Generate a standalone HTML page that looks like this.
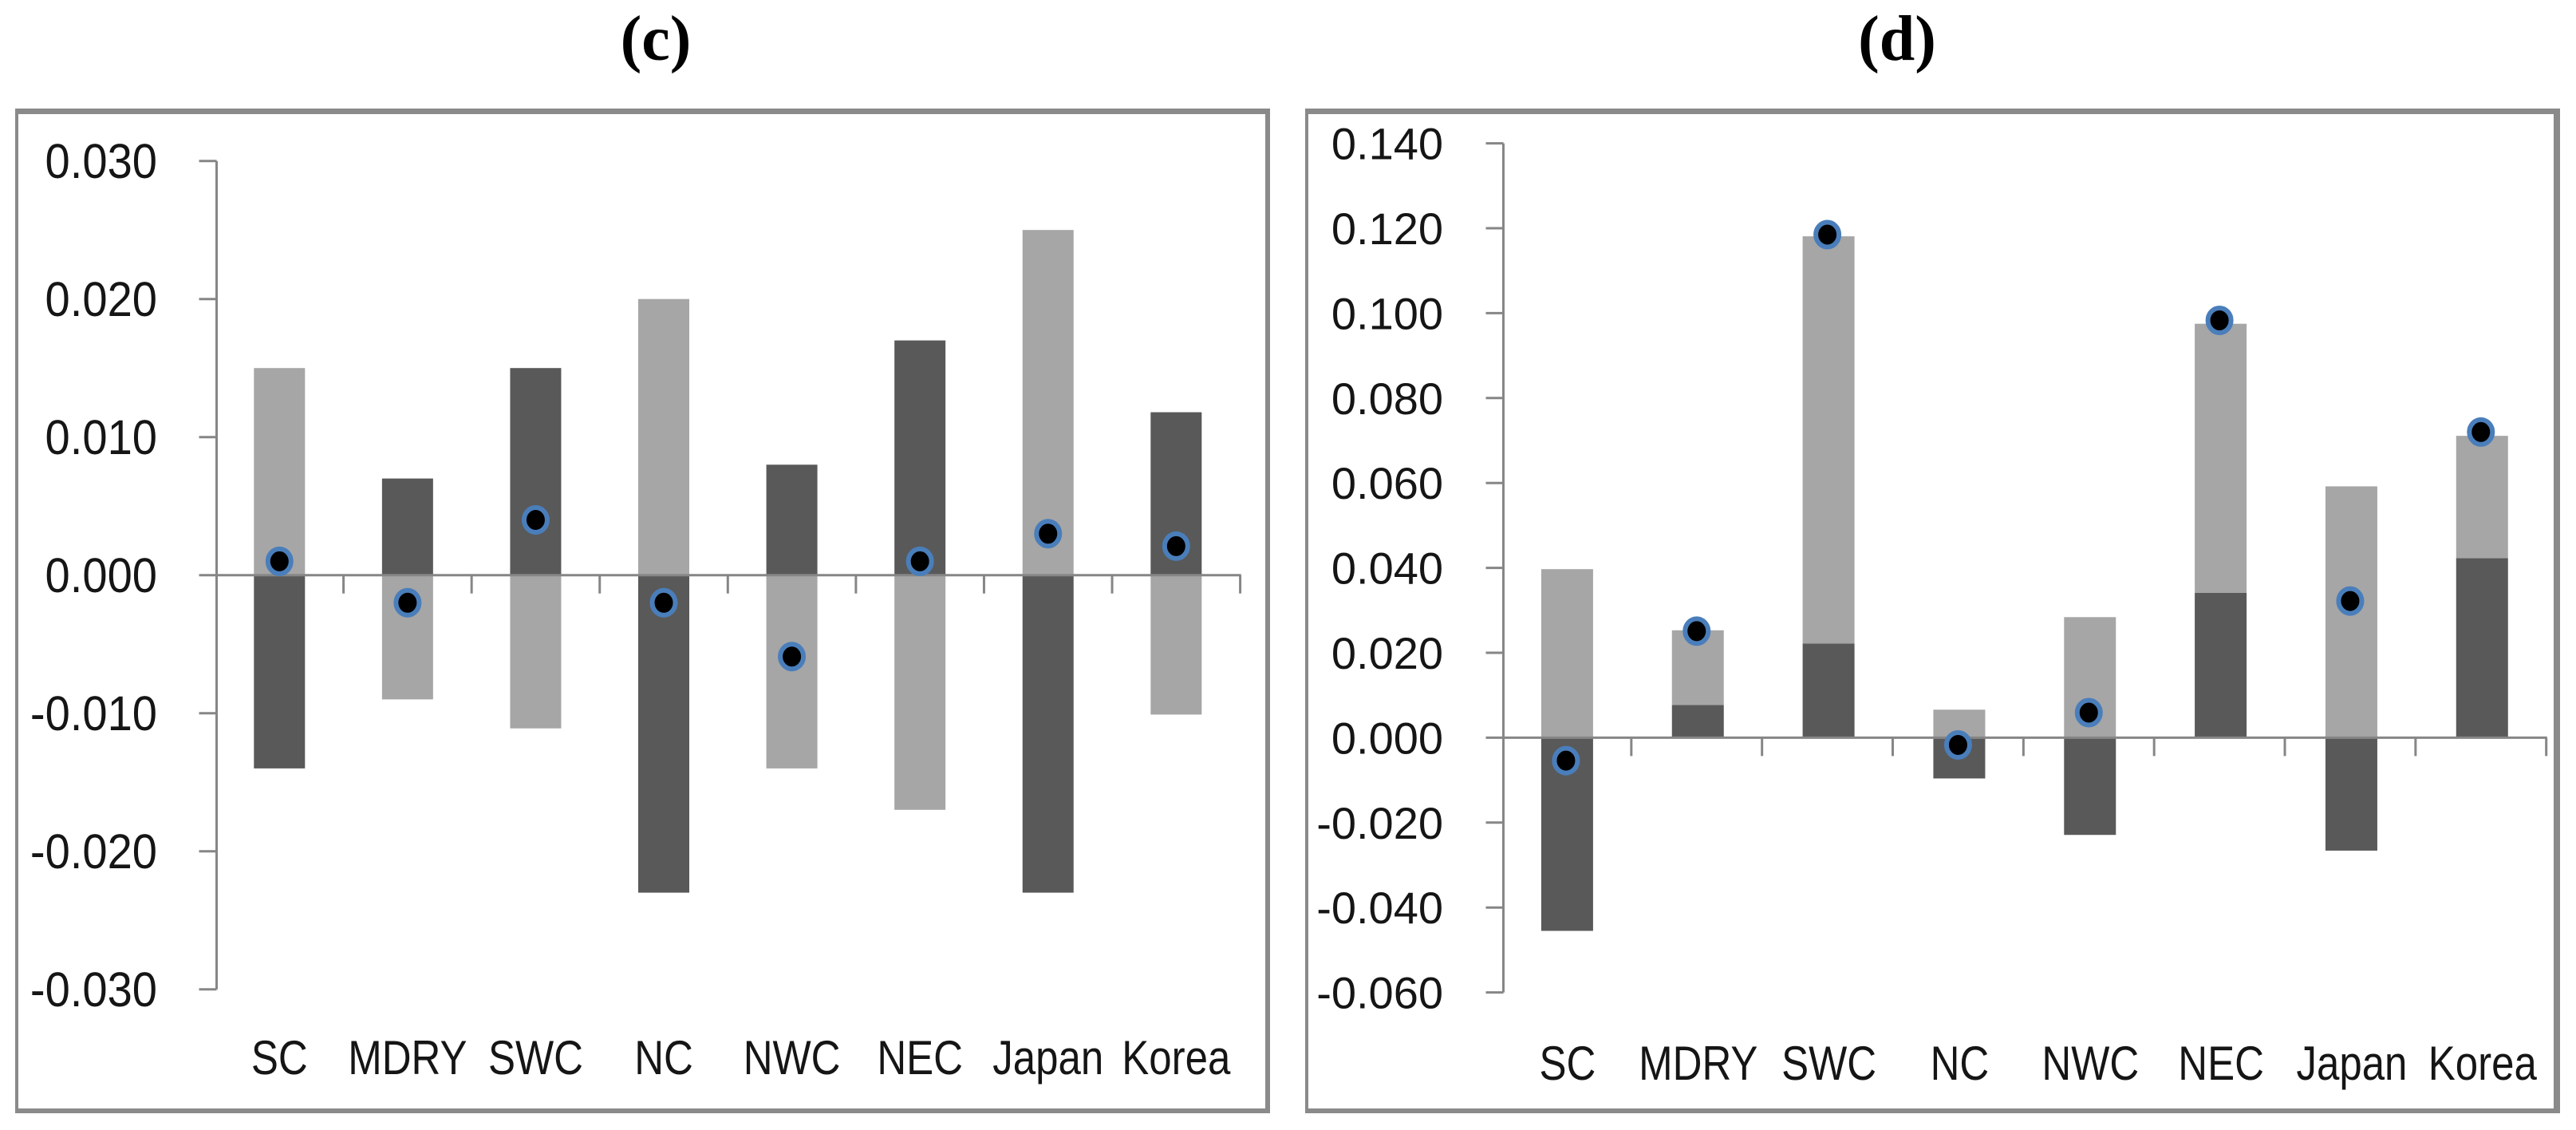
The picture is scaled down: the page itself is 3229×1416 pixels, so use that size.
<!DOCTYPE html>
<html lang="en">
<head>
<meta charset="utf-8">
<title>Panels (c) and (d)</title>
<style>
html,body{margin:0;padding:0;background:#fff;width:3229px;height:1416px;overflow:hidden}
svg{display:block}
text{font-family:"Liberation Sans",sans-serif;fill:#151515}
.title{font-family:"Liberation Serif",serif;font-weight:bold;font-size:80px;fill:#000}
</style>
</head>
<body>
<svg id="figure" xmlns="http://www.w3.org/2000/svg" width="3229" height="1416" viewBox="0 0 3229 1416">
  <rect x="0" y="0" width="3229" height="1416" fill="#fff"/>
  <text class="title" x="822" y="75" text-anchor="middle">(c)</text>
  <text class="title" x="2378" y="75" text-anchor="middle">(d)</text>
  <g id="panel-c">
    <rect x="19" y="136" width="1573" height="7" fill="#8a8a8a"/>
    <rect x="19" y="1389" width="1573" height="6" fill="#8a8a8a"/>
    <rect x="19" y="136" width="4" height="1259" fill="#8a8a8a"/>
    <rect x="1586" y="136" width="6" height="1259" fill="#8a8a8a"/>
  </g>
  <g id="panel-d">
    <rect x="1636" y="136" width="1573" height="7" fill="#8a8a8a"/>
    <rect x="1636" y="1389" width="1573" height="6" fill="#8a8a8a"/>
    <rect x="1636" y="136" width="4" height="1259" fill="#8a8a8a"/>
    <rect x="3201" y="136" width="8" height="1259" fill="#8a8a8a"/>
  </g>
</svg>
<script>
const categories = ["SC", "MDRY", "SWC", "NC", "NWC", "NEC", "Japan", "Korea"];

const cTickLabels = ["0.030", "0.020", "0.010", "0.000", "-0.010", "-0.020", "-0.030"];
const cLightValues = [0.015, -0.009, -0.0111, 0.020, -0.014, -0.017, 0.025, -0.0101];
const cDarkValues = [-0.014, 0.007, 0.015, -0.023, 0.008, 0.017, -0.023, 0.0118];
const cPointValues = [0.001, -0.002, 0.004, -0.002, -0.0059, 0.001, 0.003, 0.0021];

const dTickLabels = ["0.140", "0.120", "0.100", "0.080", "0.060", "0.040", "0.020", "0.000", "-0.020", "-0.040", "-0.060"];
const dLightValues = [0.0397, 0.0176, 0.0959, 0.0066, 0.0284, 0.0634, 0.0592, 0.0288];
const dDarkValues = [-0.0455, 0.0077, 0.0222, -0.0096, -0.0229, 0.0341, -0.0266, 0.0423];
const dPointValues = [-0.0054, 0.0251, 0.1185, -0.0017, 0.0059, 0.0983, 0.0322, 0.072];

const SVG_NS = "http://www.w3.org/2000/svg";

function shape(parent, tag, attrs) {
  const el = document.createElementNS(SVG_NS, tag);
  for (const k in attrs) el.setAttribute(k, attrs[k]);
  parent.appendChild(el);
  return el;
}

function drawPanel(opts) {
  const root = document.getElementById(opts.id);
  const yScale = v => opts.zeroY - v * opts.pxPerUnit;
  const band = (opts.bandRight - opts.bandLeft) / categories.length;
  const xCenter = i => opts.bandLeft + band * (i + 0.5);
  const axisColor = "#868686";

  opts.light.forEach((lightValue, i) => {
    const darkValue = opts.dark[i];
    const cat = categories[i].toLowerCase();
    const barX = xCenter(i) + opts.barShift - opts.barWidth / 2;

    const darkTop = Math.min(yScale(0), yScale(darkValue));
    const darkBar = shape(root, "rect", {x: barX, y: darkTop, width: opts.barWidth, height: Math.abs(yScale(darkValue) - yScale(0)), fill: "#595959"});
    
    

    const base = (darkValue > 0 && lightValue > 0) ? darkValue : 0;
    const lightEnd = base + lightValue;
    const lightTop = Math.min(yScale(base), yScale(lightEnd));
    const lightBar = shape(root, "rect", {x: barX, y: lightTop, width: opts.barWidth, height: Math.abs(yScale(lightEnd) - yScale(base)), fill: "#a6a6a6"});
    
    
  });

  const yAxis = shape(root, "line", {x1: opts.axisX, x2: opts.axisX, y1: yScale(parseFloat(opts.ticks[0])), y2: yScale(parseFloat(opts.ticks[opts.ticks.length - 1])), stroke: axisColor, "stroke-width": 3});
  
  

  const xAxis = shape(root, "line", {x1: opts.axisX, x2: opts.bandRight + 1, y1: yScale(0), y2: yScale(0), stroke: axisColor, "stroke-width": 3});
  
  

  opts.ticks.forEach(label => {
    const y = yScale(parseFloat(label));
    const tick = shape(root, "line", {x1: opts.axisX - 22, x2: opts.axisX, y1: y, y2: y, stroke: axisColor, "stroke-width": 3});
    
    

    const text = shape(root, "text", {"text-anchor": "end", transform: "translate(" + opts.labelRight + "," + (y + opts.labelDy) + ") scale(" + opts.labelSx + ",1)", "font-size": opts.labelSize});
    text.textContent = label;
    
    
  });

  categories.forEach((cat, i) => {
    const tx = opts.bandLeft + band * (i + 1);
    const tick = shape(root, "line", {x1: tx, x2: tx, y1: yScale(0), y2: yScale(0) + 23, stroke: axisColor, "stroke-width": 3});
    
    

    const text = shape(root, "text", {"text-anchor": "middle", transform: "translate(" + (xCenter(i) + opts.catShift) + "," + opts.catBaseline + ") scale(0.85,1)", "font-size": 60});
    text.textContent = cat;
    
    
  });

  opts.points.forEach((value, i) => {
    const point = shape(root, "ellipse", {cx: xCenter(i), cy: yScale(value), rx: 14.5, ry: 15.5, fill: "#000", stroke: "#4a7ebb", "stroke-width": 6});
    
    
  });
}

drawPanel({
  id: "panel-c", prefix: "panel-c",
  light: cLightValues, dark: cDarkValues, points: cPointValues, ticks: cTickLabels,
  zeroY: 720.7, pxPerUnit: 17300,
  axisX: 271.5, bandLeft: 270, bandRight: 1554.6, barShift: 0, barWidth: 64,
  labelRight: 197, labelDy: 21.5, labelSize: 61, labelSx: 0.92,
  catShift: 0, catBaseline: 1346
});

drawPanel({
  id: "panel-d", prefix: "panel-d",
  light: dLightValues, dark: dDarkValues, points: dPointValues, ticks: dTickLabels,
  zeroY: 924.4, pxPerUnit: 5320,
  axisX: 1884.5, bandLeft: 1881, bandRight: 3191.7, barShift: 1.5, barWidth: 65,
  labelRight: 1809, labelDy: 20, labelSize: 56, labelSx: 1,
  catShift: 2, catBaseline: 1353
});
</script>
</body>
</html>
